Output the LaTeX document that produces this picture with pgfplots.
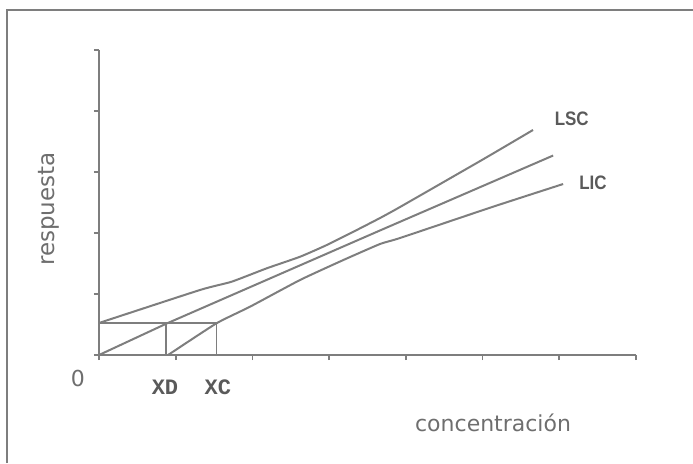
\documentclass[border=0pt]{standalone}
\usepackage{fontspec}
\setmainfont{DejaVu Sans}
\newfontfamily\lsans{Liberation Sans}
\newfontfamily\lmono{Liberation Mono}
\usepackage{pgfplots}
\pgfplotsset{compat=1.18}
\definecolor{lin}{HTML}{7E7E7E}
\definecolor{txt}{HTML}{6E6E6E}
\definecolor{lab}{HTML}{5A5A5A}
\tikzset{cl/.style={draw=lin, line width=1pt, mark=none}}
\begin{document}
\begin{tikzpicture}
\useasboundingbox (0,0) rectangle (346.5pt,231.5pt);
\draw[lin, line width=0.8pt] (3.6pt,0) -- (3.6pt,226.5pt) -- (346.5pt,226.5pt);
\begin{axis}[
  at={(49.5pt,54pt)}, anchor=south west,
  scale only axis, width=268.5pt, height=152.5pt,
  xmin=0, xmax=7, ymin=0, ymax=5,
  axis lines=left, axis line style={-, lin, line width=1pt},
  xtick={0,1,...,7}, ytick={0,1,...,5},
  xticklabels={}, yticklabels={},
  tick align=outside, major tick length=2.5pt,
  tick style={lin, line width=0.8pt},
  clip=false,
]
% calibration line
\addplot[cl] coordinates {(0,0) (0.88,0.515) (3.66,2.04) (5.92,3.27)};
% upper band (LSC)
\addplot[cl, smooth, tension=0.3] coordinates {(0,0.525) (1.317,1.066) (1.730,1.202) (2.186,1.421) (2.621,1.611) (2.969,1.803) (3.360,2.049) (3.664,2.246) (3.924,2.426) (5.007,3.208) (5.658,3.689)};
% lower band (LIC)
\addplot[cl, smooth, tension=0.3] coordinates {(0.9,0) (1.532,0.52) (1.969,0.792) (2.621,1.230) (3.185,1.557) (3.664,1.820) (3.924,1.918) (5.137,2.431) (6.050,2.803)};
% horizontal and vertical construction lines
\addplot[cl] coordinates {(0,0.525) (1.532,0.525)};
\addplot[cl, line width=0.8pt] coordinates {(0.87,0) (0.87,0.525)};
\addplot[cl, line width=0.8pt] coordinates {(1.532,0) (1.532,0.525)};
\node[txt, font=\fontsize{11pt}{13pt}\selectfont] at (axis cs:-0.274,-0.377) {0};
\node[lab, font=\lmono\bfseries\fontsize{11pt}{13pt}\selectfont] at (axis cs:0.86,-0.525) {XD};
\node[lab, font=\lmono\bfseries\fontsize{11pt}{13pt}\selectfont] at (axis cs:1.55,-0.525) {XC};
\node[txt, font=\fontsize{11pt}{13pt}\selectfont] at (axis cs:5.137,-1.115) {concentración};
\node[txt, rotate=90, font=\fontsize{11.5pt}{13pt}\selectfont] at (axis cs:-0.657,2.393) {respuesta};
\node[lab, xscale=0.87, font=\lsans\bfseries\fontsize{9.75pt}{12pt}\selectfont] at (axis cs:6.163,3.869) {LSC};
\node[lab, xscale=0.87, font=\lsans\bfseries\fontsize{9.75pt}{12pt}\selectfont] at (axis cs:6.44,2.828) {LIC};
\end{axis}
\end{tikzpicture}
\end{document}
